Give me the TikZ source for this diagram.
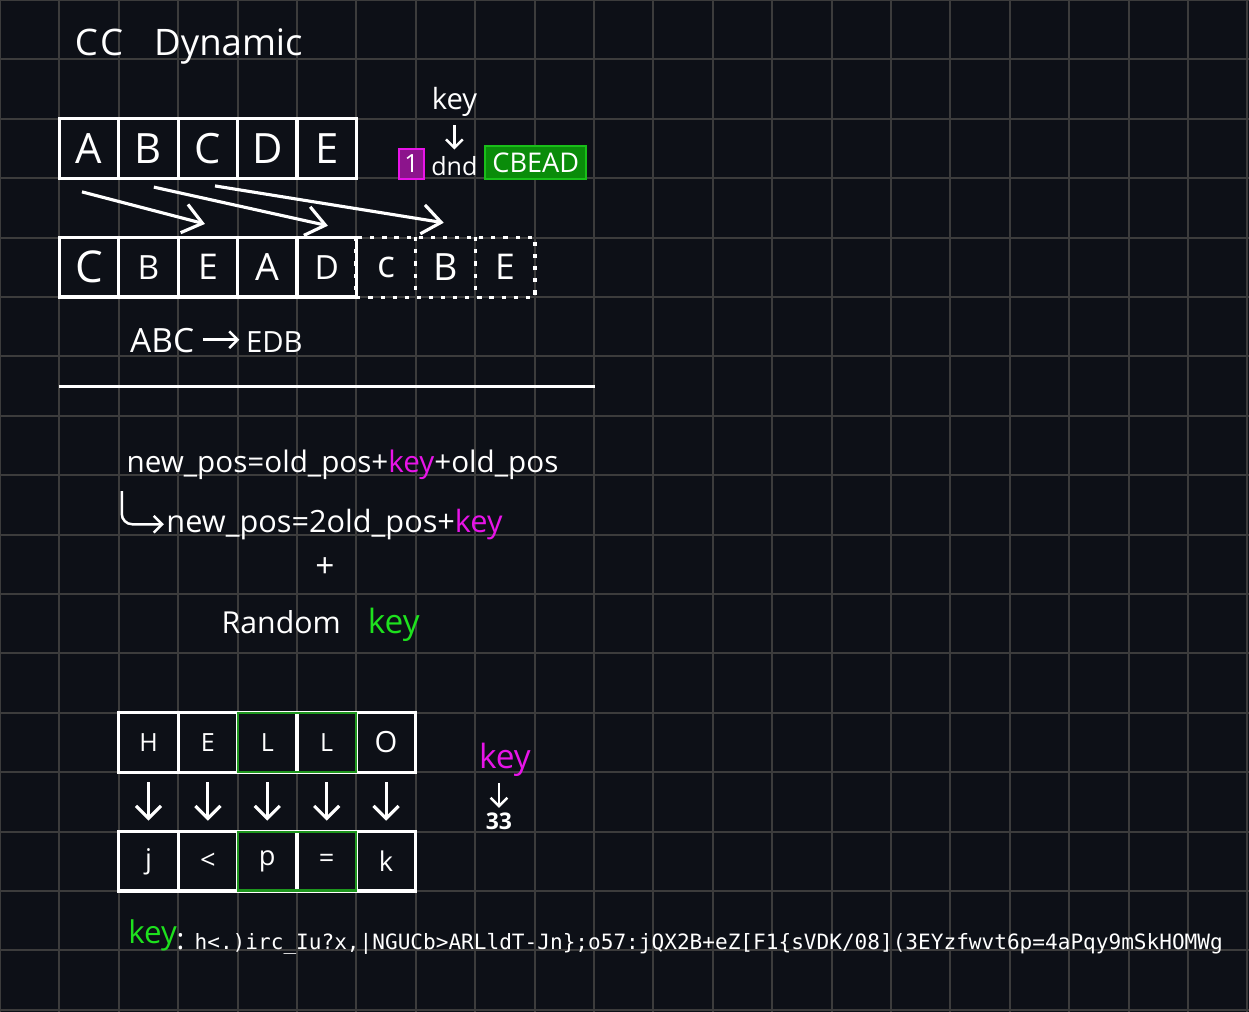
\documentclass[tikz,border=0pt]{standalone}
\usepackage{fontspec}
\setmainfont{Open Sans}
\newfontfamily\monofont{DejaVu Sans Mono}
\usetikzlibrary{arrows.meta}
\definecolor{bgc}{RGB}{13,16,23}
\definecolor{gridc}{RGB}{60,60,60}
\definecolor{magk}{RGB}{232,20,232}
\definecolor{grnk}{RGB}{30,225,30}
\definecolor{magfill}{RGB}{140,20,140}
\definecolor{grnfill}{RGB}{10,140,10}
\definecolor{grnline}{RGB}{30,150,30}
\newcommand{\handsz}[1]{\fontsize{#1}{#1}\selectfont}

\begin{document}
\begin{tikzpicture}[color=white,
    >={Straight Barb[length=9pt,width=14pt]},
    hand/.style={font=\handsz{#1}, inner sep=1pt},
    cell/.style={draw=white, line width=1.5pt, minimum size=1cm, inner sep=0pt},
    dcell/.style={minimum size=1cm, inner sep=0pt},
    dotline/.style={line width=1.5pt, dash pattern=on 2pt off 3.8pt},
    small/.style={line width=1.2pt, >={Straight Barb[length=4pt,width=8pt]}},
    down/.style={line width=1.5pt, >={Straight Barb[length=6pt,width=12pt]}, shorten <=4pt, shorten >=4.5pt}]
                % background and grid
                \useasboundingbox (0,0) rectangle (21.027,-17.037);
                \fill[bgc] (0,0) rectangle (21.027,-17.037);
                \draw[gridc, line width=1pt] (0,0) grid (21.027,-17.037);
                % title
                \node[hand=17.5, anchor=base west] (title) at (1.22,-0.94) {C\kern1pt C\hspace{0.85em}Dynamic};
                % first row
                \node[cell, hand=20] (a1) at (1.5,-2.5) {A};
                \node[cell, hand=20] (a2) at (2.5,-2.5) {B};
                \node[cell, hand=20] (a3) at (3.5,-2.5) {C};
                \node[cell, hand=20] (a4) at (4.5,-2.5) {D};
                \node[cell, hand=20] (a5) at (5.5,-2.5) {E};
                % key, 1 and CBEAD
                \node[hand=14, anchor=base] (keyA) at (7.65,-1.84) {key};
                \node[hand=12, anchor=base] (dnd) at (7.65,-2.95) {dnd};
                \draw[->, small, shorten <=3pt, shorten >=2pt] (keyA) -- (dnd);
                \node[hand=12, draw=magk, fill=magfill, line width=1pt, minimum width=0.42cm, minimum height=0.5cm, inner sep=0pt] (one) at (6.93,-2.76) {1};
                \node[hand=13, draw=grnk!85!black, fill=grnfill, line width=1pt, minimum width=1.7cm, minimum height=0.56cm, inner sep=0pt] (cbead) at (9.02,-2.74) {CBEAD};
                % shift arrows
                \coordinate (s1) at (1.38,-3.23);
                \coordinate (e1) at (3.45,-3.77);
                \coordinate (s2) at (2.59,-3.15);
                \coordinate (e2) at (5.52,-3.80);
                \coordinate (s3) at (3.62,-3.13);
                \coordinate (e3) at (7.47,-3.75);
                \draw[->, line width=1.5pt] (s1) -- (e1);
                \draw[->, line width=1.5pt] (s2) -- (e2);
                \draw[->, line width=1.5pt] (s3) -- (e3);
                % second row
                \node[cell, hand=21] (b1) at (1.5,-4.5) {C};
                \node[cell, hand=16] (b2) at (2.5,-4.5) {B};
                \node[cell, hand=17] (b3) at (3.5,-4.5) {E};
                \node[cell, hand=18] (b4) at (4.5,-4.5) {A};
                \node[cell, hand=16] (b5) at (5.5,-4.5) {D};
                \node[dcell, hand=18] (b6) at (6.5,-4.5) {c};
                \node[dcell, hand=18] (b7) at (7.5,-4.5) {B};
                \node[dcell, hand=17] (b8) at (8.5,-4.5) {E};
                \draw[dotline] (b6.north west) rectangle (b8.south east);
                \draw[dotline] (b7.north west) -- (b7.south west);
                \draw[dotline] (b7.north east) -- (b7.south east);
                % ABC -> EDB
                \node[hand=16, anchor=base west] (abc) at (2.15,-5.93) {ABC};
                \node[hand=14, anchor=base west] (edb) at (4.1,-5.93) {EDB};
                \draw[->, small, shorten <=3pt, shorten >=2pt] ([yshift=6pt]abc.base east) -- ([yshift=6pt]edb.base west);
                % separator
                \draw[line width=1.5pt] (1,-6.50) -- (10.02,-6.50);
                % formulas
                \node[hand=14.2, anchor=base west] (eq1) at (2.09,-7.95) {new\_pos=old\_pos+\textcolor{magk}{key}+old\_pos};
                \node[hand=14.7, anchor=base west] (eq2) at (2.76,-8.96) {new\_pos=2old\_pos+\textcolor{magk}{key}};
                \coordinate (hook) at (2.05,-8.27);
                \draw[->, small, rounded corners=5pt] (hook) |- (eq2.west);
                \node[hand=16] (plus) at (5.47,-9.55) {+};
                \node[hand=14.5, anchor=base west] (rand) at (3.69,-10.67) {Random};
                \node[hand=16, anchor=base west, text=grnk] (rkey) at (6.15,-10.67) {key};
                % HELLO
                \node[cell, hand=12] (c1) at (2.5,-12.5) {H};
                \node[cell, hand=12] (c2) at (3.5,-12.5) {E};
                \node[cell, hand=12] (c3) at (4.5,-12.5) {L};
                \node[cell, hand=12] (c4) at (5.5,-12.5) {L};
                \node[cell, hand=14] (c5) at (6.5,-12.5) {O};
                \node[cell, hand=13] (d1) at (2.5,-14.5) {j};
                \node[cell, hand=13] (d2) at (3.5,-14.5) {<};
                \node[cell, hand=13] (d3) at (4.5,-14.5) {p};
                \node[cell, hand=13] (d4) at (5.5,-14.5) {=};
                \node[cell, hand=13] (d5) at (6.5,-14.5) {k};
                \draw[grnline, line width=1pt] ([shift={(1pt,-1pt)}]c3.north west) rectangle ([shift={(-1pt,1pt)}]c4.south east);
                \draw[grnline, line width=1pt] ([shift={(1pt,-1pt)}]d3.north west) rectangle ([shift={(-1pt,1pt)}]d4.south east);
                \draw[->, down] (c1) -- (d1);
                \draw[->, down] (c2) -- (d2);
                \draw[->, down] (c3) -- (d3);
                \draw[->, down] (c4) -- (d4);
                \draw[->, down] (c5) -- (d5);
                % key 33
                \node[hand=16, anchor=base, text=magk] (key2) at (8.50,-12.93) {key};
                \node[hand=11] (n33) at (8.40,-13.82) {\bfseries 33};
                \draw[->, small, shorten <=2pt, shorten >=1pt] (key2.south -| n33.north) -- (n33);
                % random key
                \node[hand=15, anchor=base west, text=grnk] (key3) at (2.12,-15.89) {key};
                \node[hand=14, anchor=base west] (colon) at (2.93,-15.98) {:};
                \node[anchor=base west, font=\monofont\fontsize{10.1}{12}\selectfont, inner sep=0pt] (keystr) at (3.27,-15.98) {h<.)irc\_Iu?x,|NGUCb>ARLldT-Jn\};o57:jQX2B+eZ[F1\{sVDK/08](3EYzfwvt6p=4aPqy9mSkHOMWg};
            \end{tikzpicture}
\end{document}
